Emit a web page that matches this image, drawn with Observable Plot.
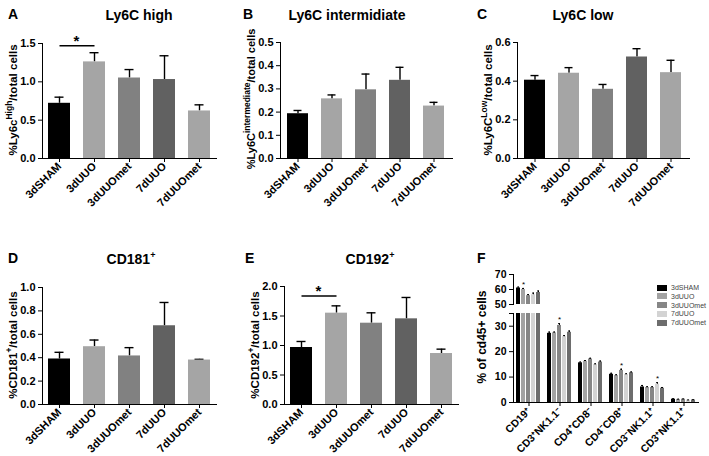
<!DOCTYPE html>
<html>
<head>
<meta charset="utf-8">
<script src="https://cdn.jsdelivr.net/npm/d3@7"></script>
<script src="https://cdn.jsdelivr.net/npm/@observablehq/plot@0.6"></script>
<style>
  html, body { margin: 0; padding: 0; background: #fff; }
  #fig { position: relative; width: 709px; height: 456px; background: #fff; overflow: hidden;
         font-family: "Liberation Sans", Arial, sans-serif; color: #000; }
  .ctr { position: absolute; transform: translate(-50%, -50%); white-space: nowrap; }
  .letter { position: absolute; font-weight: bold; font-size: 14px; }
  .title { font-weight: bold; font-size: 14px; }
  .ylab { position: absolute; transform: translate(-50%, -50%) rotate(-90deg); white-space: nowrap;
          font-weight: bold; font-size: 11.5px; }
  .ylab sup { font-size: 8.5px; line-height: 0; }
  .title sup { font-size: 9px; line-height: 0; }
  .leg { position: absolute; font-size: 7px; color: #444; display: flex; align-items: center; white-space: nowrap; }
  .leg span.sw { display: inline-block; width: 10px; height: 6px; margin-right: 4px; }
</style>
</head>
<body>
<div id="fig"></div>
<script>
// ---------- data ----------
const groups = ["3dSHAM", "3dUUO", "3dUUOmet", "7dUUO", "7dUUOmet"];
const barColors = ["#000000", "#a5a5a5", "#818181", "#616161", "#a5a5a5"];

const ly6cHigh    = [0.72, 1.26, 1.05, 1.03, 0.62];
const ly6cHighErr = [0.08, 0.12, 0.11, 0.31, 0.08];
const ly6cHighSig = 1.47;

const ly6cInt    = [0.193, 0.257, 0.296, 0.337, 0.226];
const ly6cIntErr = [0.014, 0.017, 0.068, 0.056, 0.016];

const ly6cLow    = [0.405, 0.441, 0.358, 0.525, 0.444];
const ly6cLowErr = [0.024, 0.029, 0.025, 0.043, 0.064];

const cd181    = [0.389, 0.494, 0.415, 0.673, 0.380];
const cd181Err = [0.057, 0.057, 0.071, 0.199, 0.006];

const cd192    = [0.966, 1.548, 1.378, 1.452, 0.864];
const cd192Err = [0.102, 0.124, 0.176, 0.362, 0.074];
const cd192Sig = 1.84;

// panel F
const cellTypes = ["CD19⁺", "CD3⁺NK1.1⁻", "CD4⁺CD8⁻", "CD4⁻CD8⁺", "CD3⁻NK1.1⁺", "CD3⁺NK1.1⁺"];
const fColors = ["#000000", "#a3a3a3", "#868686", "#d3d3d3", "#6d6d6d"];
const f3dSHAM      = [61.0, 27.2, 15.6, 11.1, 6.1, 1.3];
const f3dUUO       = [60.0, 27.4, 16.2, 10.6, 5.9, 1.2];
const f3dUUOmet    = [55.9, 30.3, 17.1, 12.6, 5.9, 1.3];
const f7dUUO       = [56.5, 25.9, 14.9, 11.0, 7.2, 0.9];
const f7dUUOmet    = [58.0, 27.6, 15.9, 11.7, 5.6, 1.0];
const f3dSHAMErr   = [0.6, 0.5, 0.3, 0.4, 0.6, 0.2];
const f3dUUOErr    = [0.7, 0.3, 0.3, 0.3, 0.3, 0.1];
const f3dUUOmetErr = [0.7, 0.7, 0.3, 0.5, 0.3, 0.1];
const f7dUUOErr    = [1.1, 0.4, 0.3, 0.3, 0.6, 0.1];
const f7dUUOmetErr = [1.0, 0.5, 0.4, 0.3, 0.3, 0.1];
const fStarred = [["CD19⁺", "3dUUO"], ["CD3⁺NK1.1⁻", "3dUUOmet"], ["CD4⁻CD8⁺", "3dUUOmet"], ["CD3⁻NK1.1⁺", "7dUUO"]];

// ---------- helpers ----------
const fig = document.getElementById("fig");
const FONT = '"Liberation Sans", Arial, sans-serif';

function place(node, left, top) {
  node.style.position = "absolute";
  node.style.left = left + "px";
  node.style.top = top + "px";
  fig.appendChild(node);
}
function html(cls, x, y, content, centered) {
  const d = document.createElement("div");
  d.className = cls;
  d.innerHTML = content;
  d.style.left = x + "px";
  d.style.top = y + "px";
  if (centered) d.classList.add("ctr");
  fig.appendChild(d);
  return d;
}

function barPanel({left, top, values, errs, domain, ticks, marginTop, innerH, innerW, sig}) {
  const rows = groups.map((g, i) => ({g, v: values[i], hi: values[i] + errs[i]}));
  const marks = [
    Plot.ruleX(rows, {x: "g", y1: "v", y2: "hi", stroke: "#000", strokeWidth: 1.4}),
    Plot.tickY(rows, {x: "g", y: "hi", stroke: "#000", strokeWidth: 1.4, insetLeft: 6.5, insetRight: 6.5}),
    Plot.barY(rows, {x: "g", y: "v", fill: "g"})
  ];
  if (sig != null) {
    marks.push(Plot.link([sig], {x1: () => groups[0], x2: () => groups[1], y1: d => d, y2: d => d, stroke: "#000", strokeWidth: 1.6}));
    marks.push(Plot.text([sig], {x: () => groups[0], y: d => d, text: () => "*", dx: 17, dy: -5, fontSize: 15, fontWeight: "bold"}));
  }
  const marginLeft = 42, marginRight = 14, marginBottom = 62;
  const chart = Plot.plot({
    width: marginLeft + innerW + marginRight,
    height: marginTop + innerH + marginBottom,
    marginLeft, marginRight, marginTop, marginBottom,
    style: {fontFamily: FONT, fontSize: "11px", fontWeight: "bold", background: "transparent", overflow: "visible"},
    x: {domain: groups, paddingInner: 0.37, paddingOuter: 0.15, label: null, tickRotate: -45, tickSize: 4, tickPadding: 2, line: true},
    y: {domain, ticks, tickFormat: ".1f", label: null, tickSize: 4, tickPadding: 3, line: true},
    color: {domain: groups, range: barColors},
    marks
  });
  place(chart, left, top);
}

// ---------- panels A–E ----------
barPanel({left: 0,   top: 0, values: ly6cHigh, errs: ly6cHighErr, domain: [0, 1.5], ticks: [0, 0.5, 1, 1.5], marginTop: 43, innerH: 115, innerW: 174, sig: ly6cHighSig});
barPanel({left: 238, top: 0, values: ly6cInt,  errs: ly6cIntErr,  domain: [0, 0.5], ticks: [0, 0.1, 0.2, 0.3, 0.4, 0.5], marginTop: 42, innerH: 116, innerW: 172});
barPanel({left: 475, top: 0, values: ly6cLow,  errs: ly6cLowErr,  domain: [0, 0.6], ticks: [0, 0.2, 0.4, 0.6], marginTop: 42, innerH: 116, innerW: 172});
barPanel({left: 0,   top: 225, values: cd181, errs: cd181Err, domain: [0, 1.0], ticks: [0, 0.2, 0.4, 0.6, 0.8, 1.0], marginTop: 62, innerH: 117, innerW: 174});
barPanel({left: 242, top: 225, values: cd192, errs: cd192Err, domain: [0, 2.0], ticks: [0, 0.5, 1, 1.5, 2], marginTop: 61, innerH: 118, innerW: 174, sig: cd192Sig});

// ---------- panel F (broken axis) ----------
const fVals = [f3dSHAM, f3dUUO, f3dUUOmet, f7dUUO, f7dUUOmet];
const fErrs = [f3dSHAMErr, f3dUUOErr, f3dUUOmetErr, f7dUUOErr, f7dUUOmetErr];
const fRows = [];
cellTypes.forEach((c, j) => groups.forEach((s, i) => fRows.push({c, s, v: fVals[i][j], hi: fVals[i][j] + fErrs[i][j]})));
const fStars = fStarred.map(([c, s]) => fRows.find(r => r.c === c && r.s === s));

function fChart({domain, ticks, marginTop, innerH, marginBottom, showFx, left, top}) {
  const inRange = r => r.hi >= domain[0] && r.hi <= domain[1];
  const marks = [
    Plot.barY(fRows, {fx: "c", x: "s", y1: 0, y2: "v", fill: "s", clip: true}),
    Plot.ruleX(fRows.filter(inRange), {fx: "c", x: "s", y1: "v", y2: "hi", stroke: "#000", strokeWidth: 1}),
    Plot.tickY(fRows.filter(inRange), {fx: "c", x: "s", y: "hi", stroke: "#000", strokeWidth: 1, insetLeft: 1, insetRight: 1}),
    Plot.text(fStars.filter(inRange), {fx: "c", x: "s", y: "hi", text: () => "*", dy: -4, fontSize: 8, fontWeight: "normal"})
  ];
  if (showFx) marks.push(Plot.ruleY([0], {stroke: "#000", strokeWidth: 1}));
  const marginLeft = 42, innerW = 188, marginRight = 10;
  const chart = Plot.plot({
    width: marginLeft + innerW + marginRight,
    height: marginTop + innerH + marginBottom,
    marginLeft, marginRight, marginTop, marginBottom,
    style: {fontFamily: FONT, fontSize: "10.5px", fontWeight: "bold", background: "transparent", overflow: "visible"},
    fx: showFx
      ? {domain: cellTypes, padding: 0, label: null, tickRotate: -45, tickSize: 4, tickPadding: 3}
      : {domain: cellTypes, padding: 0, axis: null},
    x: {domain: groups, paddingInner: 0.15, paddingOuter: 0.4, axis: null},
    y: {domain, ticks, tickFormat: d => d === 35 ? "" : d, label: null, tickSize: 4, tickPadding: 3, line: true},
    color: {domain: groups, range: fColors},
    marks
  });
  place(chart, left, top);
}
fChart({domain: [50, 70], ticks: [50, 60, 70], marginTop: 49, innerH: 30, marginBottom: 0, showFx: false, left: 470, top: 225});
fChart({domain: [0, 35], ticks: [0, 10, 20, 30, 35], marginTop: 13, innerH: 89, marginBottom: 54, showFx: true, left: 470, top: 300});

// ---------- letters, titles, axis labels ----------
const letters = [["A", 8, 6], ["B", 243, 6], ["C", 477, 6], ["D", 8, 250], ["E", 245, 250], ["F", 477, 250]];
letters.forEach(([t, x, y]) => html("letter", x, y, t));

const titles = [["Ly6C high", 139, 15], ["Ly6C intermidiate", 347, 15], ["Ly6C low", 583, 15],
                ["CD181<sup>+</sup>", 131, 259], ["CD192<sup>+</sup>", 370, 259]];
titles.forEach(([t, x, y]) => html("title", x, y, t, true));

const ylabs = [["%Ly6c<sup>High</sup>/total cells", 13, 100, 11.5],
               ["%Ly6C<sup>intermediate</sup>/total cells", 251, 99, 11],
               ["%Ly6C<sup>Low</sup>/total cells", 488, 100, 11.5],
               ["%CD181<sup>+</sup>/total cells", 13, 345, 11.5],
               ["%CD192<sup>+</sup>/total cells", 255, 345, 11.5],
               ["% of cd45+ cells", 482, 337, 12]];
ylabs.forEach(([t, x, y, fs]) => {
  const d = html("ylab", x, y, t);
  d.style.fontSize = fs + "px";
});

// legend for F
groups.forEach((g, i) => {
  const d = document.createElement("div");
  d.className = "leg";
  d.innerHTML = `<span class="sw" style="background:${fColors[i]}"></span>${g}`;
  d.style.left = "657px";
  d.style.top = (283.5 + i * 8.75) + "px";
  d.style.height = "8px";
  fig.appendChild(d);
});
</script>
</body>
</html>
